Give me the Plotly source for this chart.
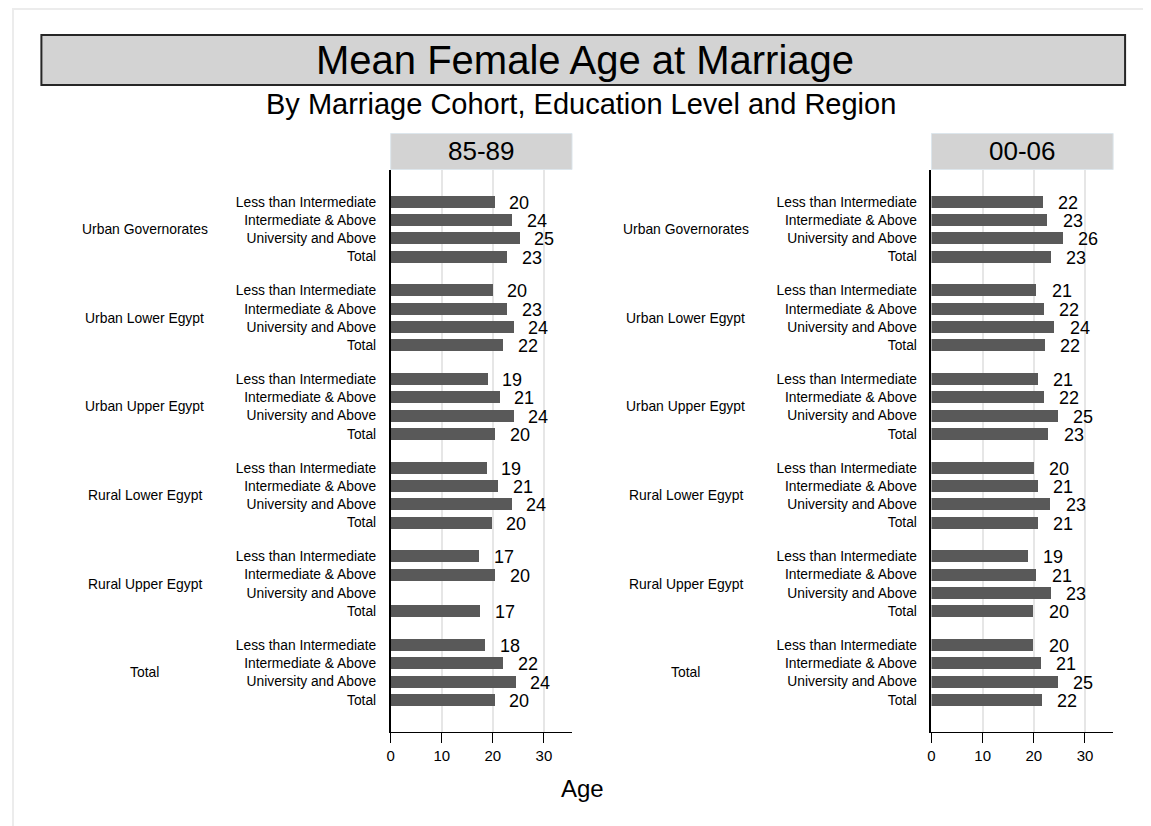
import plotly.graph_objects as go

# page body has an 8px margin; the figure is offset accordingly
OFF = 8
W, H = 1151 - OFF, 826 - OFF

cohorts = ["85-89", "00-06"]
educ = ["Less than Intermediate", "Intermediate & Above", "University and Above", "Total"]
regions = ["Urban Governorates", "Urban Lower Egypt", "Urban Upper Egypt",
           "Rural Lower Egypt", "Rural Upper Egypt", "Total"]

# mean female age at marriage, per region: [LTI, I&A, Univ, Total]
vals_8589 = [
    [20.3, 23.7, 25.2, 22.8],
    [19.9, 22.8, 24.0, 22.0],
    [18.9, 21.3, 24.0, 20.4],
    [18.7, 21.0, 23.6, 19.7],
    [17.3, 20.4, None, 17.4],
    [18.4, 22.0, 24.4, 20.3],
]
vals_0006 = [
    [21.8, 22.7, 25.8, 23.4],
    [20.6, 22.0, 24.1, 22.2],
    [20.9, 22.0, 24.8, 22.9],
    [20.1, 20.9, 23.3, 20.9],
    [18.9, 20.6, 23.4, 20.0],
    [20.0, 21.4, 24.8, 21.6],
]
panel_vals = [vals_8589, vals_0006]
xticks = [0, 10, 20, 30]

FONT = "Liberation Sans, Arial, Helvetica, sans-serif"
BAR = "#595959"
GRID = "#e6e6e6"
GROUP_STEP = 4.84

def px_x(p):
    return (p - OFF) / W

def px_y(p):
    return 1 - (p - OFF) / H

# row positions derived from group/row indices
pos = []
for g in range(len(regions)):
    for i in range(len(educ)):
        pos.append(g * GROUP_STEP + i)
ymin = pos[0] - 1.73
ymax = pos[-1] + 1.75

x_domains = [[px_x(388), px_x(570)], [px_x(930.7), px_x(1113)]]
y_domain = [px_y(732), px_y(170)]
label_centers = [141, 684]

fig = go.Figure()
annotations = []
shapes = []

for k, (coh, vals) in enumerate(zip(cohorts, panel_vals)):
    xs = [v for grp in vals for v in grp]
    xa = "x" if k == 0 else "x2"
    ya = "y" if k == 0 else "y2"
    fig.add_trace(go.Bar(
        x=xs, y=pos, orientation="h", width=0.65,
        marker=dict(color=BAR, line=dict(width=0)),
        xaxis=xa, yaxis=ya, showlegend=False, hoverinfo="x",
    ))
    for v, p in zip(xs, pos):
        if v is None:
            continue
        annotations.append(dict(
            x=v, y=p, xref=xa, yref=ya, text=f"{v:.0f}", showarrow=False,
            xanchor="left", yanchor="middle", xshift=13, yshift=-1,
            font=dict(family=FONT, size=18, color="black"),
        ))
    for g, reg in enumerate(regions):
        annotations.append(dict(
            x=px_x(label_centers[k]), y=g * GROUP_STEP + 1.5, xref="paper", yref=ya,
            text=reg, showarrow=False, xanchor="center", yanchor="middle",
            font=dict(family=FONT, size=13.9, color="black"),
        ))
    # panel header
    d = x_domains[k]
    shapes.append(dict(type="rect", xref="paper", yref="paper",
                       x0=d[0], x1=d[1], y0=px_y(169.5), y1=px_y(133.5),
                       fillcolor="#d3d3d3", line=dict(color="#dde6ec", width=1), layer="below"))
    annotations.append(dict(x=(d[0] + d[1]) / 2, y=px_y(151), xref="paper", yref="paper",
                            text=coh, showarrow=False, xanchor="center", yanchor="middle",
                            font=dict(family=FONT, size=26, color="black")))

axis_x = dict(range=[0, 35.5], tickvals=xticks, ticks="outside", ticklen=10, tickwidth=1.3,
              tickcolor="black", showline=True, linecolor="black", linewidth=1.3,
              showgrid=True, gridcolor=GRID, gridwidth=1.5, zeroline=False,
              tickfont=dict(family=FONT, size=15, color="black"), fixedrange=True)
axis_y = dict(range=[ymax, ymin], tickvals=pos, ticktext=educ * len(regions),
              ticks="outside", ticklen=10, tickcolor="rgba(0,0,0,0)",
              showline=True, linecolor="black", linewidth=1.5, showgrid=False, zeroline=False,
              tickfont=dict(family=FONT, size=13.8, color="black"), domain=y_domain,
              fixedrange=True)

# title box
shapes.append(dict(type="rect", xref="paper", yref="paper",
                   x0=px_x(37.5), x1=px_x(1125), y0=px_y(85), y1=px_y(35),
                   fillcolor="#d3d3d3", line=dict(color="#262626", width=2), layer="below"))
# outer frame (top and left edges visible)
shapes.append(dict(type="rect", xref="paper", yref="paper",
                   x0=px_x(9), x1=1.05, y0=-0.05, y1=px_y(9),
                   fillcolor="rgba(0,0,0,0)", line=dict(color="#ececec", width=2), layer="below"))

annotations.append(dict(x=px_x(583), y=px_y(60), xref="paper", yref="paper",
                        text="Mean Female Age at Marriage", showarrow=False,
                        xanchor="center", yanchor="middle",
                        font=dict(family=FONT, size=40, color="black")))
annotations.append(dict(x=px_x(579), y=px_y(104), xref="paper", yref="paper",
                        text="By Marriage Cohort, Education Level and Region", showarrow=False,
                        xanchor="center", yanchor="middle",
                        font=dict(family=FONT, size=29, color="black")))
annotations.append(dict(x=px_x(580.5), y=px_y(788), xref="paper", yref="paper",
                        text="Age", showarrow=False, xanchor="center", yanchor="middle",
                        font=dict(family=FONT, size=24, color="black")))

fig.update_layout(
    width=W, height=H, autosize=False,
    margin=dict(l=0, r=0, t=0, b=0),
    paper_bgcolor="white", plot_bgcolor="white",
    xaxis=dict(axis_x, domain=x_domains[0], anchor="y"),
    xaxis2=dict(axis_x, domain=x_domains[1], anchor="y2"),
    yaxis=dict(axis_y, anchor="x"),
    yaxis2=dict(axis_y, anchor="x2"),
    annotations=annotations, shapes=shapes,
    bargap=0, font=dict(family=FONT),
)

fig.write_html("out.html", config={"displayModeBar": False})
